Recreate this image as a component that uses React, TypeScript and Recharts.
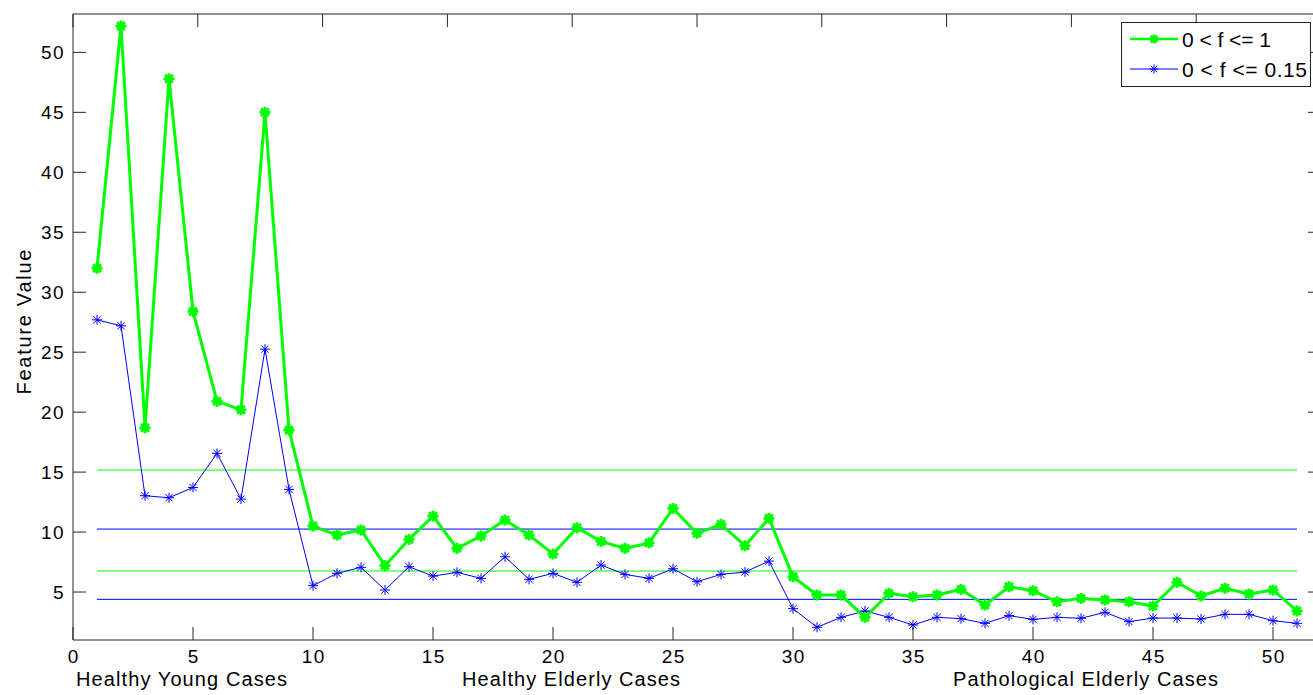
import { LineChart, Line, XAxis, YAxis, ReferenceLine } from "recharts";

// case index along x
const cases = [
  1, 2, 3, 4, 5, 6, 7, 8, 9, 10, 11, 12, 13, 14, 15, 16, 17, 18, 19, 20, 21, 22, 23, 24, 25, 26,
  27, 28, 29, 30, 31, 32, 33, 34, 35, 36, 37, 38, 39, 40, 41, 42, 43, 44, 45, 46, 47, 48, 49, 50, 51,
];

// 0 < f <= 1
const fullBand = [
  32.0, 52.2, 18.7, 47.8, 28.4, 20.9, 20.2, 45.0, 18.5, 10.5, 9.75, 10.17, 7.2, 9.39, 11.33, 8.64,
  9.67, 11.0, 9.75, 8.17, 10.36, 9.22, 8.64, 9.1, 11.97, 9.89, 10.64, 8.86, 11.14, 6.28, 4.75, 4.75,
  2.89, 4.89, 4.61, 4.75, 5.22, 3.92, 5.44, 5.11, 4.19, 4.47, 4.33, 4.19, 3.83, 5.81, 4.67, 5.31,
  4.83, 5.17, 3.42,
];

// 0 < f <= 0.15
const lowBand = [
  27.7, 27.2, 13.03, 12.86, 13.72, 16.56, 12.75, 25.25, 13.56, 5.53, 6.56, 7.06, 5.17, 7.11, 6.33,
  6.64, 6.14, 7.94, 6.06, 6.56, 5.81, 7.25, 6.47, 6.14, 6.94, 5.86, 6.47, 6.67, 7.58, 3.61, 2.06,
  2.89, 3.42, 2.89, 2.25, 2.89, 2.78, 2.39, 3.03, 2.72, 2.89, 2.81, 3.31, 2.53, 2.83, 2.83, 2.75,
  3.14, 3.14, 2.61, 2.39,
];

const fullBandThresholds = [15.17, 6.75];
const lowBandThresholds = [10.25, 4.39];
const thresholdSpan = [1, 51];

const xTicks = [0, 5, 10, 15, 20, 25, 30, 35, 40, 45, 50];
const yTicks = [5, 10, 15, 20, 25, 30, 35, 40, 45, 50];

const groupLabels = ["Healthy Young Cases", "Healthy Elderly Cases", "Pathological Elderly Cases"];

const GREEN = "#00ff00";
const BLUE = "#0000ff";
const AXIS = "#262626";
const FONT = '"Liberation Sans", Arial, Helvetica, sans-serif';

const data = cases.map((c, i) => ({ case: c, full: fullBand[i], low: lowBand[i] }));

const Star = ({ cx, cy, color, size, width }: any) => {
  const d = size * 0.72;
  return (
    <g stroke={color} strokeWidth={width} fill="none">
      <line x1={cx - size} y1={cy} x2={cx + size} y2={cy} />
      <line x1={cx} y1={cy - size} x2={cx} y2={cy + size} />
      <line x1={cx - d} y1={cy - d} x2={cx + d} y2={cy + d} />
      <line x1={cx - d} y1={cy + d} x2={cx + d} y2={cy - d} />
    </g>
  );
};

const fullDot = (p: any) => (
  <Star key={"f" + p.index} cx={p.cx} cy={p.cy} color={GREEN} size={5.5} width={2.8} />
);
const lowDot = (p: any) => (
  <Star key={"l" + p.index} cx={p.cx} cy={p.cy} color={BLUE} size={5} width={1} />
);

const tickText = { fontFamily: FONT, fontSize: 19, letterSpacing: 1.4, fill: "#000" };

const BottomTick = ({ x, y, payload }: any) => (
  <g>
    <line x1={x} y1={y} x2={x} y2={y - 13} stroke={AXIS} />
    <text x={x + 0.7} y={y + 23} textAnchor="middle" style={tickText}>
      {payload.value}
    </text>
  </g>
);

const TopTick = ({ x, y }: any) => <line x1={x} y1={y} x2={x} y2={y + 13} stroke={AXIS} />;

const LeftTick = ({ x, y, payload }: any) => (
  <g>
    <line x1={x} y1={y} x2={x + 13} y2={y} stroke={AXIS} />
    <text x={x - 8} y={y + 7} textAnchor="end" style={tickText}>
      {payload.value}
    </text>
  </g>
);

const RightTick = ({ x, y }: any) => <line x1={x} y1={y} x2={x - 13} y2={y} stroke={AXIS} />;

export default function App() {
  return (
    <div
      style={{
        position: "absolute",
        left: 0,
        top: 0,
        width: 1313,
        height: 695,
        overflow: "hidden",
        background: "#fff",
      }}
    >
      <LineChart
        width={1330}
        height={695}
        data={data}
        margin={{ top: 13, right: 8, left: 0, bottom: 0 }}
      >
        <XAxis
          dataKey="case"
          type="number"
          domain={[0, 52]}
          ticks={xTicks}
          interval={0}
          allowDataOverflow
          height={55}
          tickLine={false}
          tickSize={0}
          tickMargin={0}
          stroke={AXIS}
          tick={BottomTick}
        />
        <XAxis
          xAxisId="top"
          orientation="top"
          type="number"
          domain={[0, 52]}
          ticks={xTicks}
          interval={0}
          allowDataOverflow
          height={1}
          tickLine={false}
          tickSize={0}
          tickMargin={0}
          stroke={AXIS}
          tick={TopTick}
        />
        <YAxis
          type="number"
          domain={[1, 53.2]}
          ticks={yTicks}
          interval={0}
          allowDataOverflow
          width={73}
          tickLine={false}
          tickSize={0}
          tickMargin={0}
          stroke={AXIS}
          tick={LeftTick}
        />
        <YAxis
          yAxisId="right"
          orientation="right"
          type="number"
          domain={[1, 53.2]}
          ticks={yTicks}
          interval={0}
          allowDataOverflow
          width={1}
          tickLine={false}
          tickSize={0}
          tickMargin={0}
          stroke={AXIS}
          tick={RightTick}
        />
        {fullBandThresholds.map((v) => (
          <ReferenceLine
            key={"g" + v}
            segment={[
              { x: thresholdSpan[0], y: v },
              { x: thresholdSpan[1], y: v },
            ]}
            stroke={GREEN}
            strokeWidth={1}
          />
        ))}
        {lowBandThresholds.map((v) => (
          <ReferenceLine
            key={"b" + v}
            segment={[
              { x: thresholdSpan[0], y: v },
              { x: thresholdSpan[1], y: v },
            ]}
            stroke={BLUE}
            strokeWidth={1}
          />
        ))}
        <Line
          type="linear"
          dataKey="low"
          stroke={BLUE}
          strokeWidth={1}
          dot={lowDot}
          activeDot={false}
          isAnimationActive={false}
        />
        <Line
          type="linear"
          dataKey="full"
          stroke={GREEN}
          strokeWidth={3}
          dot={fullDot}
          activeDot={false}
          isAnimationActive={false}
        />
      </LineChart>
      <svg
        width={1313}
        height={695}
        style={{ position: "absolute", left: 0, top: 0, pointerEvents: "none" }}
      >
        <text
          transform="translate(31 322) rotate(-90)"
          textAnchor="middle"
          textLength={145}
          lengthAdjust="spacing"
          style={{ fontFamily: FONT, fontSize: 20, fill: "#000" }}
        >
          Feature Value
        </text>
        <text x={76} y={686} textLength={211} lengthAdjust="spacing" style={{ fontFamily: FONT, fontSize: 20, fill: "#000" }}>
          {groupLabels[0]}
        </text>
        <text x={462} y={686} textLength={218} lengthAdjust="spacing" style={{ fontFamily: FONT, fontSize: 20, fill: "#000" }}>
          {groupLabels[1]}
        </text>
        <text x={953} y={686} textLength={265} lengthAdjust="spacing" style={{ fontFamily: FONT, fontSize: 20, fill: "#000" }}>
          {groupLabels[2]}
        </text>
        <rect x={1121.5} y={22.5} width={189} height={64} fill="#fff" stroke={AXIS} />
        <line x1={1130} y1={39} x2={1178} y2={39} stroke={GREEN} strokeWidth={2.5} />
        <Star cx={1154} cy={39} color={GREEN} size={4.5} width={2.6} />
        <text x={1182} y={47} textLength={89} lengthAdjust="spacing" style={{ fontFamily: FONT, fontSize: 21, fill: "#000" }}>
          0 &lt; f &lt;= 1
        </text>
        <line x1={1130} y1={69} x2={1178} y2={69} stroke={BLUE} strokeWidth={1} />
        <Star cx={1154} cy={69} color={BLUE} size={4.5} width={1} />
        <text x={1182} y={77} textLength={125} lengthAdjust="spacing" style={{ fontFamily: FONT, fontSize: 21, fill: "#000" }}>
          0 &lt; f &lt;= 0.15
        </text>
      </svg>
    </div>
  );
}
